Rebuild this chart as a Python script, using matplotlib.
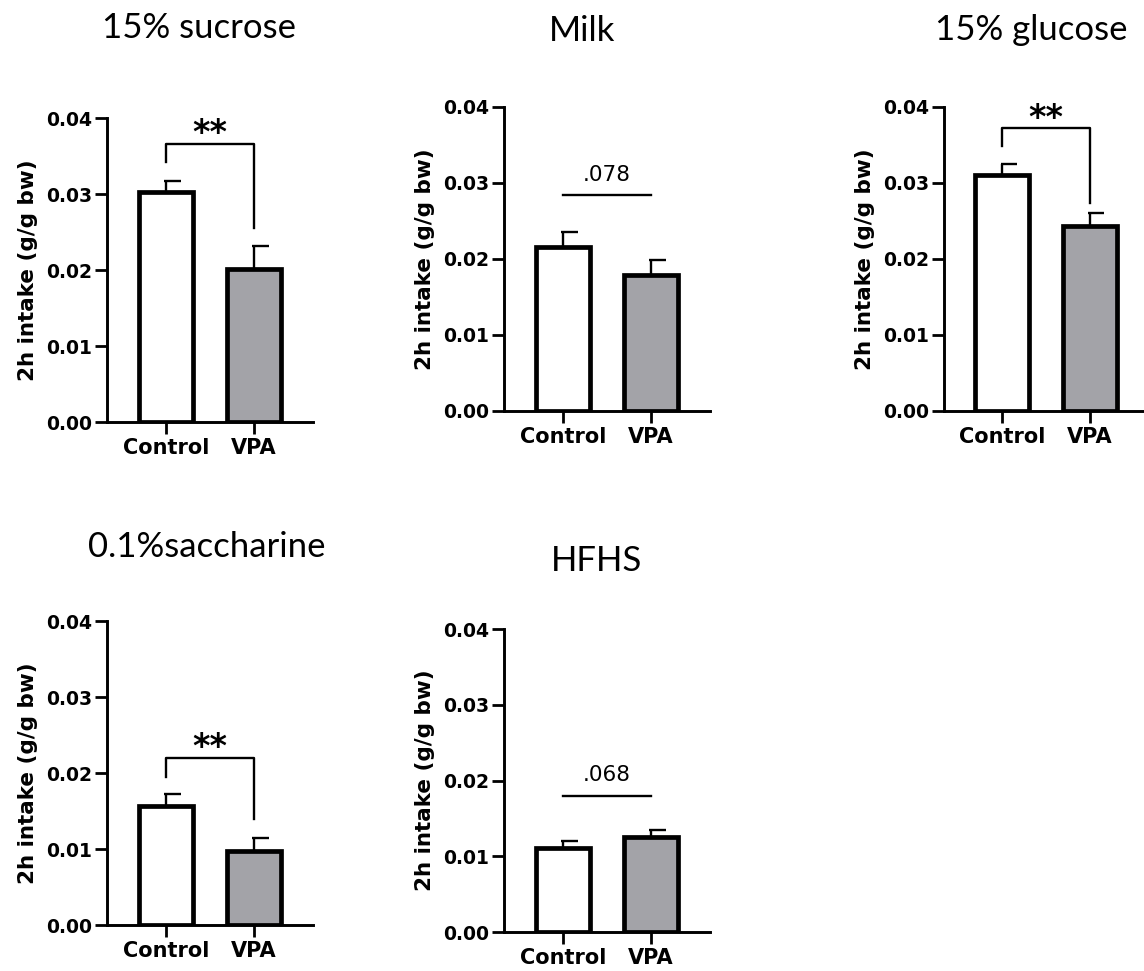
import matplotlib
matplotlib.use("Agg")
import matplotlib.pyplot as plt

# ---- data -------------------------------------------------------------
panel_titles = ["15% sucrose", "Milk", "15% glucose", "0.1%saccharine", "HFHS"]
groups = ["Control", "VPA"]
control_mean = [0.0302, 0.0216, 0.0311, 0.0156, 0.0111]
control_sem = [0.0015, 0.0020, 0.0014, 0.0016, 0.0009]
vpa_mean = [0.0201, 0.0179, 0.0244, 0.0097, 0.0125]
vpa_sem = [0.0030, 0.0020, 0.0017, 0.0017, 0.0009]

# significance annotations: label, bar height, leg ends (None = plain line)
sig_text = ["**", ".078", "**", "**", ".068"]
sig_height = [0.0366, 0.0284, 0.0372, 0.0220, 0.0180]
sig_left_end = [0.0342, None, 0.0349, 0.0195, None]
sig_right_end = [0.0255, None, 0.0274, 0.0139, None]

y_ticks = [0.00, 0.01, 0.02, 0.03, 0.04]
y_tick_labels = ["0.00", "0.01", "0.02", "0.03", "0.04"]
y_label = "2h intake (g/g bw)"

# ---- layout (pixels) --------------------------------------------------
W, H = 1144, 971
axes_px = [(107, 118, 206, 304), (504, 107, 206, 304), (944, 107, 204, 304),
           (107, 621, 206, 304), (504, 629, 206, 303)]
title_px = [(199, 38), (582, 41), (1031, 40), (207, 557), (597, 571)]

fig = plt.figure(figsize=(W / 100, H / 100), dpi=100)

bar_colors = ["white", "#a3a3a8"]
tick_font = dict(family="DejaVu Sans", weight="bold")

for i in range(len(panel_titles)):
    lx, ty, w, h = axes_px[i]
    ax = fig.add_axes([lx / W, (H - ty - h) / H, w / W, h / H])
    xs = [0, 1]
    means = [control_mean[i], vpa_mean[i]]
    sems = [control_sem[i], vpa_sem[i]]

    ax.bar(xs, means, width=0.62, color=bar_colors, edgecolor="black",
           linewidth=3.4, zorder=2)
    for x, m, s in zip(xs, means, sems):
        ax.vlines(x, m, m + s, color="black", linewidth=1.7, zorder=1)
        ax.hlines(m + s, x - 0.02, x + 0.17, color="black", linewidth=1.7, zorder=1)

    # significance marks
    yb = sig_height[i]
    if sig_left_end[i] is not None:
        ax.plot([0, 0, 1, 1], [sig_left_end[i], yb, yb, sig_right_end[i]],
                color="black", linewidth=1.7, clip_on=False)
        ax.annotate(sig_text[i], xy=(0.5, yb), xytext=(0, 0.5),
                    textcoords="offset points", ha="center", va="baseline",
                    fontsize=24, fontweight="bold", family="DejaVu Sans",
                    annotation_clip=False)
    else:
        ax.plot([0, 1], [yb, yb], color="black", linewidth=1.7, clip_on=False)
        ax.annotate(sig_text[i], xy=(0.5, yb), xytext=(0, 10.5),
                    textcoords="offset points", ha="center", va="baseline",
                    fontsize=15.5, family="DejaVu Sans", annotation_clip=False)

    ax.set_xlim(-0.67, 1.67)
    ax.set_ylim(0, 0.04)
    ax.set_xticks(xs)
    ax.set_xticklabels(groups, fontsize=15, **tick_font)
    ax.set_yticks(y_ticks)
    ax.set_yticklabels(y_tick_labels, fontsize=13.5, **tick_font)
    ax.tick_params(axis="both", direction="out", length=8.5, width=2,
                   color="black")
    ax.tick_params(axis="x", pad=3)
    ax.tick_params(axis="y", pad=2)
    for side in ("top", "right"):
        ax.spines[side].set_visible(False)
    for side in ("left", "bottom"):
        ax.spines[side].set_linewidth(2.1)
    ax.set_ylabel(y_label, fontsize=15.5, fontweight="bold", family="DejaVu Sans",
                  va="center")
    ax.yaxis.set_label_coords(-0.385, 0.5)
    ax.set_facecolor("none")

    tx, tb = title_px[i]
    fig.text(tx / W, (H - tb) / H, panel_titles[i], ha="center", va="baseline",
             fontsize=25, family="Lato")

fig.savefig("out.png", dpi=100)
